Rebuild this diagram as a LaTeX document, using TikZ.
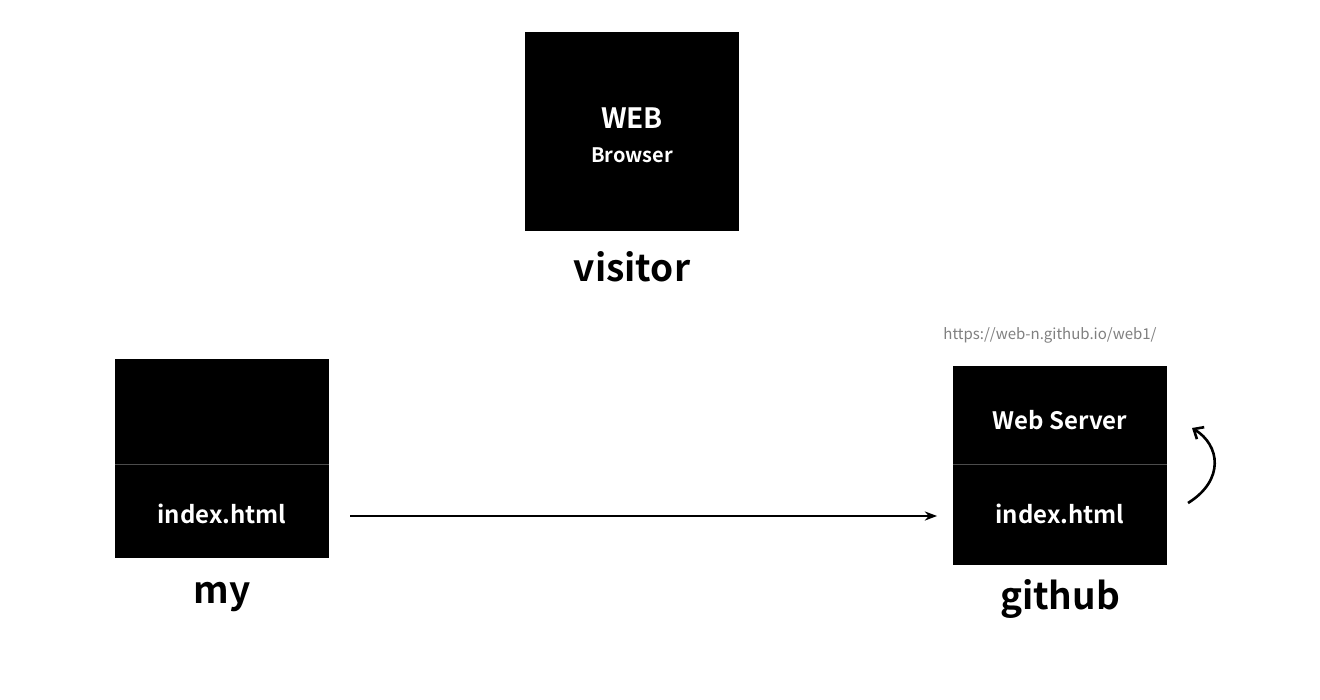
\documentclass[tikz,border=0pt]{standalone}
\usepackage{fontspec}
\usetikzlibrary{arrows.meta}
\setmainfont{Noto Sans CJK KR}[BoldFont={* Bold}]
\begin{document}
\begin{tikzpicture}[x=0.5pt,y=-0.5pt,
  box/.style={fill=black,draw=none},
  intext/.style={text=white,font=\bfseries\fontsize{12}{14}\selectfont},
  lbl/.style={font=\bfseries\fontsize{18.5}{22}\selectfont},
  div/.style={draw=gray!60!black,line width=0.5pt}]
\useasboundingbox[fill=white] (0,0) rectangle (1320,700);
\fill[box] (525,32) rectangle (739,231);
\node[intext,font=\bfseries\fontsize{14}{16}\selectfont] (web) at (632,118) {WEB};
\node[intext,font=\bfseries\fontsize{10}{12}\selectfont] (br) at (632,155) {Browser};
\node[lbl] (visitor) at (632,267) {visitor};
\fill[box] (115,359) rectangle (329,558);
\draw[div] (115,464) -- (329,464);
\node[intext] (myidx) at (222,514) {index.html};
\node[lbl] (my) at (222,597) {my};
\fill[box] (953,366) rectangle (1167,565);
\draw[div] (953,464) -- (1167,464);
\node[intext] (ws) at (1060,420) {Web Server};
\node[intext] (ghidx) at (1060,514) {index.html};
\node[lbl] (github) at (1060,599) {github};
\node[text=gray,font=\fontsize{7.5}{9}\selectfont] (url) at (1050,335) {https://web-n.github.io/web1/};
\coordinate (a1) at (350,516);
\coordinate (a2) at (937,516);
\draw[-Stealth,line width=0.7pt] (a1) -- (a2);
\coordinate (c1) at (1188,503);
\coordinate (c2) at (1192,428);
\draw[-{Straight Barb[length=4pt,width=7pt]},line width=1.3pt] (c1) .. controls (1225,480) and (1220,445) .. (c2);
\end{tikzpicture}
\end{document}
